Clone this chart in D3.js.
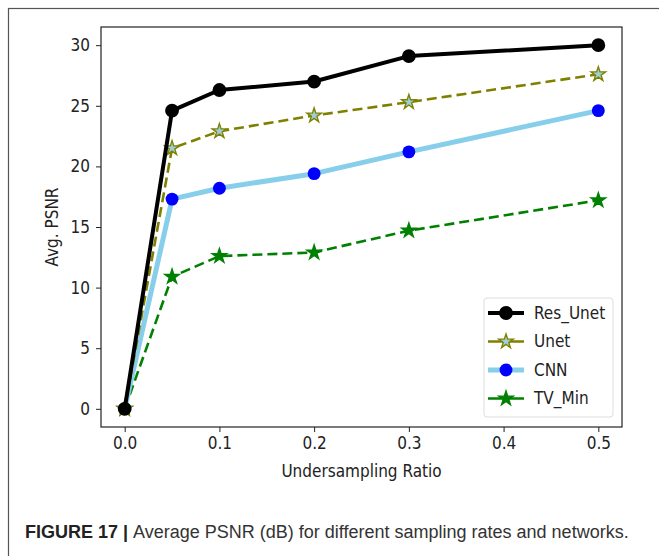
<!DOCTYPE html>
<html>
<head>
<meta charset="utf-8">
<script src="https://cdn.jsdelivr.net/npm/d3@7/dist/d3.min.js"></script>
<style>
	body { margin: 0; background: #fff; }
	svg { display: block; }
	.axis text { font-family: "DejaVu Sans Condensed", "DejaVu Sans", sans-serif; font-size: 17px; fill: #222; }
	.axis path, .axis line { stroke: #222; }
	.label { font-family: "DejaVu Sans Condensed", "DejaVu Sans", sans-serif; font-size: 17px; fill: #222; }
	.legend text { font-family: "DejaVu Sans Condensed", "DejaVu Sans", sans-serif; font-size: 17px; fill: #222; }
	.caption { font-family: "Liberation Sans", Arial, sans-serif; font-size: 18px; fill: #333; }
</style>
</head>
<body>
<div id="graphic"></div>
<script>
// Data
var RATIOS = [0, 0.05, 0.1, 0.2, 0.3, 0.5];
var SERIES_NAMES = ['Res_Unet', 'Unet', 'CNN', 'TV_Min'];
var RES_UNET = [0, 24.6, 26.3, 27.0, 29.1, 30.0];
var UNET = [0, 21.5, 22.9, 24.2, 25.3, 27.6];
var CNN = [0, 17.3, 18.2, 19.4, 21.2, 24.6];
var TV_MIN = [0, 10.9, 12.6, 12.9, 14.7, 17.2];
var X_TICKS = [0, 0.1, 0.2, 0.3, 0.4, 0.5];
var Y_TICKS = [0, 5, 10, 15, 20, 25, 30];

var WIDTH = 659;
var HEIGHT = 556;

var margins = { top: 27, right: 37, bottom: 129, left: 101 };

var styles = {
	'Res_Unet': { line: '#000', width: 4, dash: null, marker: 'circle', size: 150, fill: '#000', stroke: '#000' },
	'Unet': { line: '#808000', width: 2.6, dash: '10,5', marker: 'star', size: 65, fill: '#9ccfd8', stroke: '#808000' },
	'CNN': { line: '#87ceeb', width: 5, dash: null, marker: 'circle', size: 130, fill: '#0000ff', stroke: '#0000ff' },
	'TV_Min': { line: '#008000', width: 2.6, dash: '10,5', marker: 'star', size: 65, fill: '#008000', stroke: '#008000' }
};

var seriesValues = {
	'Res_Unet': RES_UNET,
	'Unet': UNET,
	'CNN': CNN,
	'TV_Min': TV_MIN
};

function render() {
	var chartWidth = WIDTH - margins.left - margins.right;
	var chartHeight = HEIGHT - margins.top - margins.bottom;

	var svg = d3.select('#graphic').append('svg')
		.attr('width', WIDTH)
		.attr('height', HEIGHT);

	// outer figure frame
	svg.append('rect')
		.attr('x', 8.5).attr('y', 8.5)
		.attr('width', WIDTH + 10).attr('height', HEIGHT + 10)
		.attr('fill', 'none')
		.attr('stroke', '#555')
		.attr('stroke-width', 1.2);

	var chart = svg.append('g')
		.attr('transform', 'translate(' + margins.left + ',' + margins.top + ')');

	var xScale = d3.scaleLinear()
		.domain([-0.025, 0.525])
		.range([0, chartWidth]);

	var yScale = d3.scaleLinear()
		.domain([-1.5, 31.5])
		.range([chartHeight, 0]);

	var xAxis = d3.axisBottom(xScale)
		.tickValues(X_TICKS)
		.tickSize(5)
		.tickPadding(5)
		.tickFormat(d3.format('.1f'));

	var yAxis = d3.axisLeft(yScale)
		.tickValues(Y_TICKS)
		.tickSize(5)
		.tickPadding(6)
		.tickFormat(d3.format('d'));

	chart.append('g')
		.attr('class', 'x axis')
		.attr('transform', 'translate(0,' + chartHeight + ')')
		.call(xAxis)
		.select('.domain').remove();

	chart.append('g')
		.attr('class', 'y axis')
		.call(yAxis)
		.select('.domain').remove();

	chart.append('rect')
		.attr('width', chartWidth)
		.attr('height', chartHeight)
		.attr('fill', 'none')
		.attr('stroke', '#222')
		.attr('stroke-width', 1.2);

	var line = d3.line()
		.x(function(d) { return xScale(d[0]); })
		.y(function(d) { return yScale(d[1]); });

	var symbolFor = function(s) {
		return d3.symbol()
			.type(s.marker === 'star' ? d3.symbolStar : d3.symbolCircle)
			.size(s.size);
	};

	// draw back-to-front so Res_Unet is on top
	SERIES_NAMES.slice().reverse().forEach(function(name) {
		var s = styles[name];
		var pts = RATIOS.map(function(r, i) { return [r, seriesValues[name][i]]; });
		var g = chart.append('g').attr('class', 'series');
		g.append('path')
			.datum(pts)
			.attr('d', line)
			.attr('fill', 'none')
			.attr('stroke', s.line)
			.attr('stroke-width', s.width)
			.attr('stroke-dasharray', s.dash)
			.attr('stroke-linejoin', 'round');
		g.selectAll('path.marker')
			.data(pts)
			.enter().append('path')
			.attr('class', 'marker')
			.attr('transform', function(d) { return 'translate(' + xScale(d[0]) + ',' + yScale(d[1]) + ')'; })
			.attr('d', symbolFor(s)())
			.attr('fill', s.fill)
			.attr('stroke', s.stroke)
			.attr('stroke-width', s.marker === 'star' ? 1.4 : 0);
	});

	// Legend
	var legend = chart.append('g')
		.attr('class', 'legend')
		.attr('transform', 'translate(' + (chartWidth - 138) + ',' + (chartHeight - 129) + ')');

	legend.append('rect')
		.attr('width', 129).attr('height', 119)
		.attr('rx', 3)
		.attr('fill', '#fff')
		.attr('stroke', '#ddd');

	var rows = legend.selectAll('g.row')
		.data(SERIES_NAMES)
		.enter().append('g')
		.attr('class', 'row')
		.attr('transform', function(d, i) { return 'translate(0,' + (15 + i * 28.5) + ')'; });

	rows.append('line')
		.attr('x1', 4).attr('x2', 40)
		.attr('stroke', function(d) { return styles[d].line; })
		.attr('stroke-width', function(d) { return styles[d].width; });

	rows.append('path')
		.attr('transform', 'translate(22,0)')
		.attr('d', function(d) { return symbolFor(styles[d])(); })
		.attr('fill', function(d) { return styles[d].fill; })
		.attr('stroke', function(d) { return styles[d].stroke; })
		.attr('stroke-width', function(d) { return styles[d].marker === 'star' ? 1.4 : 0; });

	rows.append('text')
		.attr('x', 50)
		.attr('dy', '0.35em')
		.text(function(d) { return d; });

	// Axis labels
	chart.append('text')
		.attr('class', 'label')
		.attr('x', chartWidth / 2)
		.attr('y', chartHeight + 50)
		.attr('text-anchor', 'middle')
		.text('Undersampling Ratio');

	chart.append('text')
		.attr('class', 'label')
		.attr('transform', 'translate(-43,' + (chartHeight / 2) + ') rotate(-90)')
		.attr('text-anchor', 'middle')
		.text('Avg. PSNR');

	// Caption
	var caption = svg.append('text')
		.attr('class', 'caption')
		.attr('x', 25)
		.attr('y', 538);
	caption.append('tspan')
		.attr('font-weight', 'bold')
		.attr('fill', '#222')
		.text('FIGURE 17 | ');
	caption.append('tspan')
		.text('Average PSNR (dB) for different sampling rates and networks.');
}

render();
</script>
</body>
</html>
